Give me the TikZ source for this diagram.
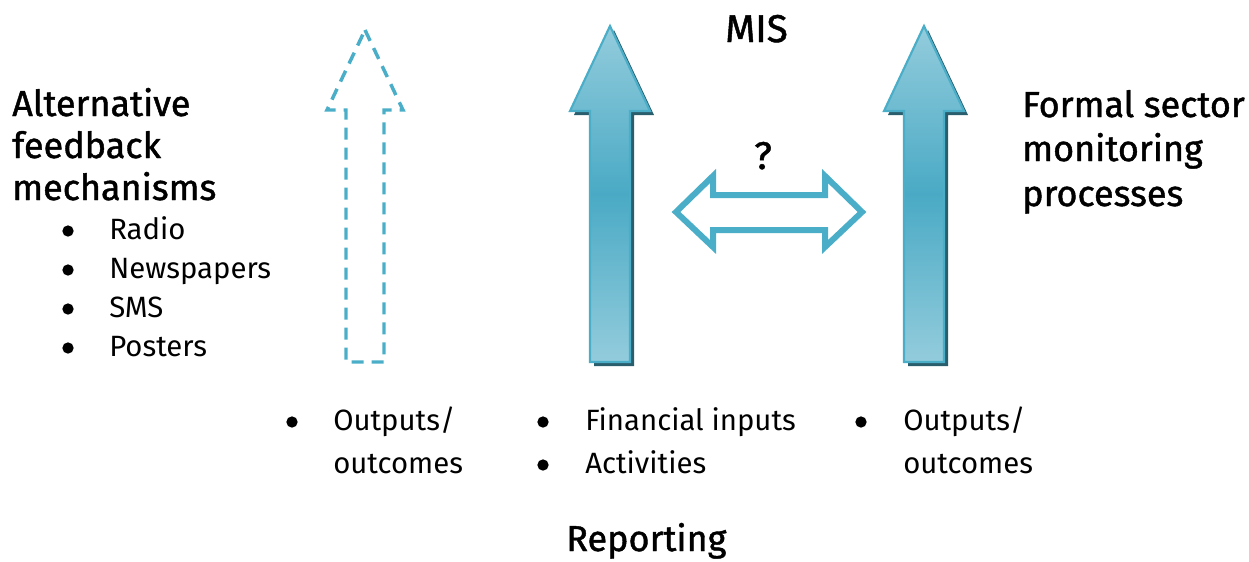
\documentclass[tikz,border=0pt]{standalone}
\usepackage{fontspec}
\setmainfont{Fira Sans}
\newfontfamily\headfont[FakeBold=1.2]{Fira Sans}
\definecolor{arrlight}{HTML}{93CCDC}
\definecolor{arrdark}{HTML}{4AAAC5}
\definecolor{arredge}{HTML}{4AAEC8}
\definecolor{arrshadow}{HTML}{2A5E6D}
\tikzset{
  headtxt/.style={anchor=base west, inner sep=0pt, font=\headfont\fontsize{27}{32}\selectfont},
  bodytxt/.style={anchor=base west, inner sep=0pt, font=\fontsize{22}{26}\selectfont},
  bul/.style={circle, fill=black, inner sep=0pt, minimum size=8.5pt},
  solidarrow/.style={draw=arredge, line width=1.6pt, line join=miter, top color=arrlight, bottom color=arrlight, middle color=arrdark},
  arrshade/.style={fill=arrshadow},
  dasharrow/.style={draw=arredge, line width=2.6pt, dash pattern=on 9pt off 6pt},
  dblarrow/.style={draw=arredge, line width=4.5pt, line join=miter}
}
\begin{document}
\begin{tikzpicture}[x=0.75pt, y=-0.75pt]
\useasboundingbox (0,0) rectangle (1249,561);
% dashed arrow
\draw[dasharrow] (365,30) -- (403,110) -- (384,110) -- (384,362) -- (346,362) -- (346,110) -- (327,110) -- cycle;
% middle solid arrow
\begin{scope}[shift={(610,0)}]
\fill[arrshade] (4,30) -- (44,115) -- (24,115) -- (24,366) -- (-16,366) -- (-16,115) -- (-36,115) -- cycle;
\path[solidarrow] (0,26) -- (40,111) -- (20,111) -- (20,362) -- (-20,362) -- (-20,111) -- (-40,111) -- cycle;
\end{scope}
% right solid arrow
\begin{scope}[shift={(924,0)}]
\fill[arrshade] (4,30) -- (44,115) -- (24,115) -- (24,366) -- (-16,366) -- (-16,115) -- (-36,115) -- cycle;
\path[solidarrow] (0,26) -- (40,111) -- (20,111) -- (20,362) -- (-20,362) -- (-20,111) -- (-40,111) -- cycle;
\end{scope}
% double arrow
\draw[dblarrow] (676,212) -- (713,176) -- (713,195) -- (825,195) -- (825,176) -- (862,212) -- (825,247) -- (825,230) -- (713,230) -- (713,247) -- cycle;
\node[anchor=base, inner sep=0pt, font=\headfont\fontsize{29}{33}\selectfont] (q) at (763,169) {?};
% MIS
\node[headtxt, font=\headfont\fontsize{29}{33}\selectfont] (mis) at (725,42) {MIS};
% left heading
\node[headtxt] (alt1) at (12,116) {Alternative};
\node[headtxt] (alt2) at (12,158) {feedback};
\node[headtxt] (alt3) at (12,200) {mechanisms};
\node[bul] (b1) at (68,231) {};
\node[bul] (b2) at (68,270) {};
\node[bul] (b3) at (68,309) {};
\node[bul] (b4) at (68,348) {};
\node[bodytxt] (l1) at (109,239) {Radio};
\node[bodytxt] (l2) at (109,278) {Newspapers};
\node[bodytxt] (l3) at (109,317) {SMS};
\node[bodytxt] (l4) at (109,356) {Posters};
% right heading
\node[headtxt] (f1) at (1022,117) {Formal sector};
\node[headtxt] (f2) at (1022,161) {monitoring};
\node[headtxt] (f3) at (1022,206) {processes};
% bottom lists
\node[bul] (c1) at (292,422) {};
\node[bodytxt] (o1) at (333,430) {Outputs/};
\node[bodytxt] (o2) at (333,473) {outcomes};
\node[bul] (d1) at (543,422) {};
\node[bul] (d2) at (543,465) {};
\node[bodytxt] (m1) at (585,430) {Financial inputs};
\node[bodytxt] (m2) at (585,473) {Activities};
\node[bul] (e1) at (861,422) {};
\node[bodytxt] (r1) at (903,430) {Outputs/};
\node[bodytxt] (r2) at (903,473) {outcomes};
% Reporting
\node[headtxt, font=\headfont\fontsize{27}{32}\selectfont] (rep) at (566,551) {Reporting};
\end{tikzpicture}
\end{document}
